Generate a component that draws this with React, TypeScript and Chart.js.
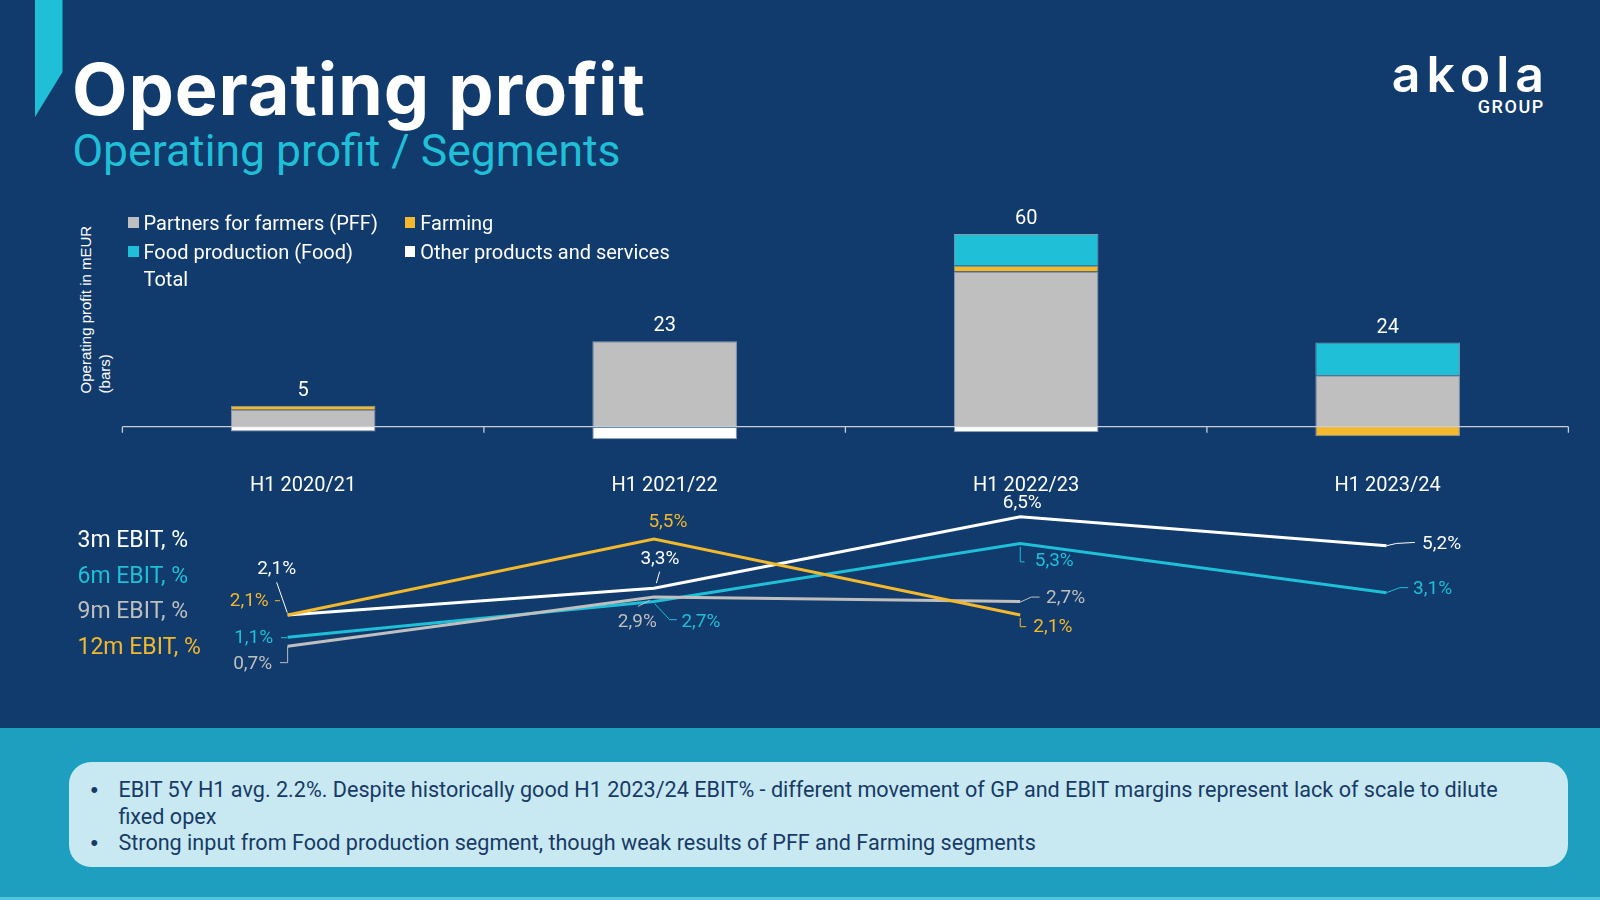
import React, { useEffect, useRef } from 'react';
import { Chart, registerables } from 'chart.js';

Chart.register(...registerables);

// ---------------- data ----------------
const categories = ['H1 2020/21', 'H1 2021/22', 'H1 2022/23', 'H1 2023/24'];

const segmentNames = [
  'Partners for farmers (PFF)',
  'Farming',
  'Food production (Food)',
  'Other products and services',
];
const pffValues = [5.45, 27.4, 49.8, 16.5];
const farmingValues = [1.3, 0, 1.8, -3.1];
const foodValues = [0, -0.3, 10.2, 10.5];
const otherValues = [-1.5, -3.7, -1.8, 0];
const totalName = 'Total';
const totalValues = [5, 23, 60, 24];

const ebitNames = ['3m EBIT, %', '6m EBIT, %', '9m EBIT, %', '12m EBIT, %'];
const ebit3m = [2.1, 3.3, 6.5, 5.2];
const ebit6m = [1.1, 2.7, 5.3, 3.1];
const ebit9m = [0.7, 2.9, 2.7, null];
const ebit12m = [2.1, 5.5, 2.1, null];

const titleText = 'Operating profit';
const subtitleText = 'Operating profit / Segments';
const yAxisTitle = ['Operating profit in mEUR', '(bars)'];
const bulletLines = [
  ['EBIT 5Y H1 avg. 2.2%. Despite historically good H1 2023/24 EBIT% - different movement of GP and EBIT margins represent lack of scale to dilute', 'fixed opex'],
  ['Strong input from Food production segment, though weak results of PFF and Farming segments'],
];

// ---------------- styles ----------------
const NAVY = '#113B6C';
const TEAL = '#1FBFD7';
const GRAY = '#BFBFBF';
const YELLOW = '#F3B82B';
const WHITE = '#FFFFFF';
const EDGE = 'rgba(150,165,185,0.9)';

const segmentColors = [GRAY, YELLOW, TEAL, WHITE];
const ebitColors = [WHITE, TEAL, GRAY, YELLOW];

// label placement (offset of label centre from its point, and leader polyline relative to point)
const labelOffsets = [
  [[-11, -46], [6, -29], [2, -13], [55, -1]],
  [[-34, 1], [47, 20.5], [34, 17.4], [46, -3.4]],
  [[-35, 17.7], [-16.6, 25], [45.3, -2.9], [0, 0]],
  [[-38.4, -13.3], [14, -16.3], [32.6, 12.3], [0, 0]],
];
const leaderPaths = [
  [[[-0.4, -2.3], [-11, -32.7]], [[2.4, -5], [5.7, -16.6]], [], [[0, 0], [10, -2.3], [28.3, -3.3]]],
  [[[-6.7, 0.4], [-0.4, 0.4]], [[0.7, 2.1], [15.7, 18.1], [23, 18.1]], [[0, 3.4], [0, 18.4], [4.3, 18.4]], [[0, 0], [13.3, -5], [21.6, -5]]],
  [[[0, 0], [0, 16.4], [-7.7, 16.4]], [[-4.3, 3.3], [-16, 9.3]], [[0, 0.5], [11, -4.5], [19.3, -4.5]], []],
  [[[-12.7, -14.3], [-7.7, -14.3]], [], [[0, 3], [0, 11.7], [6, 11.7]], []],
];

const fmtPct = (v: number) => v.toFixed(1).replace('.', ',') + '%';

// ---------------- plugins ----------------
const zeroAxisPlugin = {
  id: 'zeroAxis',
  afterDatasetsDraw(chart: any) {
    const { ctx, chartArea, scales } = chart;
    const y0 = scales.y.getPixelForValue(0);
    ctx.save();
    ctx.strokeStyle = '#C9CDD2';
    ctx.lineWidth = 1.3;
    ctx.beginPath();
    ctx.moveTo(chartArea.left, y0);
    ctx.lineTo(chartArea.right, y0);
    const n = chart.data.labels.length;
    for (let i = 0; i <= n; i++) {
      const x = scales.x.getPixelForValue(i - 0.5);
      ctx.moveTo(x, y0);
      ctx.lineTo(x, y0 + 6);
    }
    ctx.stroke();
    ctx.restore();
  },
};

const totalLabelPlugin = {
  id: 'totalLabels',
  afterDatasetsDraw(chart: any) {
    const { ctx } = chart;
    const totalIdx = chart.data.datasets.findIndex((d: any) => d.label === totalName);
    const barMetas = chart.getSortedVisibleDatasetMetas().filter((m: any) => m.type === 'bar');
    ctx.save();
    ctx.fillStyle = WHITE;
    ctx.font = '20px Roboto';
    ctx.textAlign = 'center';
    ctx.textBaseline = 'middle';
    chart.data.datasets[totalIdx].data.forEach((v: number, i: number) => {
      let top = Infinity;
      let x = 0;
      barMetas.forEach((m: any) => {
        const el = m.data[i];
        top = Math.min(top, el.y, el.base);
        x = el.x;
      });
      ctx.fillText(String(v), x, top - 15);
    });
    ctx.restore();
  },
};

const lineLabelPlugin = {
  id: 'lineLabels',
  afterDatasetsDraw(chart: any) {
    const { ctx } = chart;
    chart.data.datasets.forEach((ds: any, d: number) => {
      const meta = chart.getDatasetMeta(d);
      ds.data.forEach((v: number | null, i: number) => {
        if (v === null || v === undefined) return;
        const pt = meta.data[i];
        const [dx, dy] = labelOffsets[d][i];
        const path = leaderPaths[d][i];
        ctx.save();
        ctx.strokeStyle = ds.borderColor;
        ctx.lineWidth = 1;
        if (path.length) {
          ctx.beginPath();
          path.forEach(([lx, ly]: number[], k: number) => {
            if (k === 0) ctx.moveTo(pt.x + lx, pt.y + ly);
            else ctx.lineTo(pt.x + lx, pt.y + ly);
          });
          ctx.stroke();
        }
        ctx.fillStyle = ds.borderColor;
        ctx.font = '19px Roboto';
        ctx.textAlign = 'center';
        ctx.textBaseline = 'middle';
        ctx.fillText(fmtPct(v), pt.x + dx, pt.y + dy);
        ctx.restore();
      });
    });
  },
};

// ---------------- helpers ----------------
function Txt(props: {
  x: number; y: number; size: number; color: string; children: any;
  weight?: number; family?: string; spacing?: number; right?: boolean;
}) {
  const { x, y, size, color, children, weight = 400, family = 'Roboto', spacing = 0, right = false } = props;
  const style: any = {
    position: 'absolute',
    top: y - 0.6 * size,
    fontSize: size,
    lineHeight: `${1.2 * size}px`,
    color,
    fontWeight: weight,
    fontFamily: family,
    letterSpacing: spacing,
    whiteSpace: 'nowrap',
  };
  if (right) style.right = 1600 - x - spacing;
  else style.left = x;
  return <div style={style}>{children}</div>;
}

export default function App() {
  const barRef = useRef<HTMLCanvasElement>(null);
  const lineRef = useRef<HTMLCanvasElement>(null);

  useEffect(() => {
    document.body.style.margin = '0';
    const segData = [pffValues, farmingValues, foodValues, otherValues];
    const bar = new Chart(barRef.current as HTMLCanvasElement, {
      type: 'bar',
      data: {
        labels: categories,
        datasets: [
          ...segmentNames.map((name, k) => ({
            type: 'bar' as const,
            label: name,
            data: segData[k],
            backgroundColor: segmentColors[k],
            borderColor: EDGE,
            borderWidth: 1,
            barPercentage: 0.4,
            categoryPercentage: 1,
          })),
          {
            type: 'line' as const,
            label: totalName,
            data: totalValues,
            showLine: false,
            pointRadius: 0,
            borderColor: 'transparent',
            backgroundColor: 'transparent',
          },
        ],
      } as any,
      options: {
        animation: false,
        responsive: false,
        maintainAspectRatio: false,
        layout: { padding: { left: 122.4, right: 31.6, top: 10, bottom: 8.8 } },
        plugins: { legend: { display: false }, tooltip: { enabled: false } },
        scales: {
          x: {
            stacked: true,
            offset: true,
            grid: { display: false, drawTicks: false },
            border: { display: false },
            ticks: { color: WHITE, font: { family: 'Roboto', size: 20 }, padding: 3 },
          },
          y: { stacked: true, display: false, min: -14.27, max: 72.7 },
        },
      } as any,
      plugins: [zeroAxisPlugin, totalLabelPlugin],
    });

    const ebitData = [ebit3m, ebit6m, ebit9m, ebit12m];
    const line = new Chart(lineRef.current as HTMLCanvasElement, {
      type: 'line',
      data: {
        labels: categories,
        datasets: ebitNames.map((name, k) => ({
          label: name,
          data: ebitData[k],
          borderColor: ebitColors[k],
          backgroundColor: ebitColors[k],
          borderWidth: 3,
          pointRadius: 0,
          tension: 0,
          spanGaps: false,
          order: 4 - k,
        })),
      } as any,
      options: {
        animation: false,
        responsive: false,
        maintainAspectRatio: false,
        layout: { padding: { left: 104.5, right: 30.3, top: 10, bottom: 10 } },
        plugins: { legend: { display: false }, tooltip: { enabled: false } },
        scales: {
          x: { display: false, offset: true },
          y: { display: false, min: -0.81, max: 7.247 },
        },
      } as any,
      plugins: [lineLabelPlugin],
    });

    return () => {
      bar.destroy();
      line.destroy();
    };
  }, []);

  const legendItems = [
    ...segmentNames.map((n, k) => ({ label: n, color: segmentColors[k] as string | null })),
    { label: totalName, color: null as string | null },
  ];
  const legendCols = [128, 404.8];
  const legendRows = [222.7, 251.7, 279.3];

  return (
    <div
      style={{
        position: 'fixed', left: 0, top: 0, width: 1600, height: 900,
        background: NAVY, overflow: 'hidden', fontFamily: 'Roboto, sans-serif',
      }}
    >
      {/* accent shape */}
      <div
        style={{
          position: 'absolute', left: 35, top: 0, width: 27.5, height: 117, background: TEAL,
          clipPath: 'polygon(0 0, 100% 0, 100% 61.5%, 0 100%)',
        }}
      />
      <Txt x={72} y={89} size={72} color={WHITE} weight={700} family="Inter" spacing={0.9}>{titleText}</Txt>
      <Txt x={72.5} y={151.7} size={44.5} color={TEAL}>{subtitleText}</Txt>

      {/* logo */}
      <Txt x={1550} y={73.6} size={50} color={WHITE} weight={600} family="Inter" spacing={6}>
        <span style={{ position: 'absolute', right: 0, top: 0 }}>akola</span>
      </Txt>
      <Txt x={1543.3} y={106.3} size={18} color={WHITE} weight={500} spacing={1.6} right>GROUP</Txt>

      {/* y-axis title */}
      <div
        style={{
          position: 'absolute', left: 95.4 - 86, top: 307 - 19.4, width: 172, height: 38.8,
          transform: 'rotate(-90deg)', transformOrigin: '50% 50%',
          fontFamily: '"Liberation Sans", Arial, sans-serif', fontSize: 15, lineHeight: '19.4px',
          color: WHITE, whiteSpace: 'nowrap', textAlign: 'left',
        }}
      >
        {yAxisTitle.map((t, i) => <div key={i}>{t}</div>)}
      </div>

      <canvas ref={barRef} width={1600} height={320} style={{ position: 'absolute', left: 0, top: 190 }} />
      <canvas ref={lineRef} width={1600} height={200} style={{ position: 'absolute', left: 0, top: 490 }} />

      {/* bar legend */}
      {legendItems.map((it, k) => {
        const cx = legendCols[k % 2];
        const cy = legendRows[Math.floor(k / 2)];
        return (
          <React.Fragment key={k}>
            {it.color && (
              <div style={{ position: 'absolute', left: cx, top: cy - 5.25, width: 10.5, height: 10.5, background: it.color }} />
            )}
            <Txt x={cx + 15.5} y={cy} size={20} color={WHITE}>{it.label}</Txt>
          </React.Fragment>
        );
      })}

      {/* line series names */}
      {ebitNames.map((n, k) => (
        <Txt key={n} x={77.5} y={540 + k * 35.5} size={23} color={ebitColors[k]}>{n}</Txt>
      ))}

      {/* bottom band */}
      <div style={{ position: 'absolute', left: 0, top: 728, width: 1600, height: 172, background: '#1E9FBF' }} />
      <div style={{ position: 'absolute', left: 0, top: 897, width: 1600, height: 3, background: '#52C7DD' }} />
      <div
        style={{
          position: 'absolute', left: 69, top: 762, width: 1499, height: 105, background: '#C8E9F1',
          borderRadius: 22,
        }}
      />
      <div
        style={{
          position: 'absolute', left: 118.4, top: 777, fontSize: 21.6, lineHeight: '26.5px',
          color: '#173A66', fontFamily: 'Roboto', whiteSpace: 'nowrap',
        }}
      >
        {bulletLines.map((lines, i) => (
          <div key={i} style={{ position: 'relative' }}>
            <span style={{ position: 'absolute', left: -28, fontFamily: '"Liberation Sans", Arial, sans-serif' }}>•</span>
            {lines.map((l, j) => (
              <React.Fragment key={j}>
                {j > 0 && <br />}
                {l}
              </React.Fragment>
            ))}
          </div>
        ))}
      </div>
    </div>
  );
}
